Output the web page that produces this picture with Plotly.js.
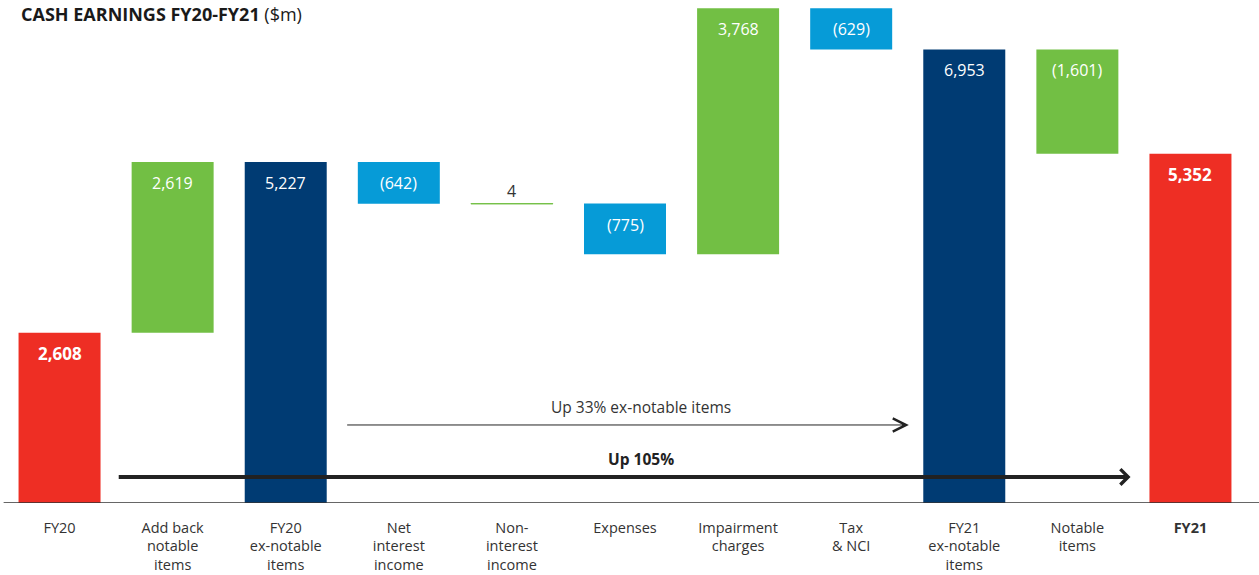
<!DOCTYPE html>
<html>
<head>
<meta charset="utf-8">
<script src="https://cdn.plot.ly/plotly-3.0.1.min.js"></script>
<style>html,body{margin:0;padding:0;background:#fff;}#chart{width:1259px;height:575px;}</style>
</head>
<body>
<div id="chart"></div>
<script>
// ---- data ----
const categories = ['FY20', 'Add back<br>notable<br>items', 'FY20<br>ex-notable<br>items', 'Net<br>interest<br>income', 'Non-<br>interest<br>income', 'Expenses', 'Impairment<br>charges', 'Tax<br>& NCI', 'FY21<br>ex-notable<br>items', 'Notable<br>items', '<b>FY21</b>'];
const values = [2608, 2619, 5227, -642, 4, -775, 3768, -629, 6953, -1601, 5352];
const measures = ['total', 'relative', 'total', 'relative', 'relative', 'relative', 'relative', 'relative', 'total', 'relative', 'total'];
const barColors = ['#EE2E24', '#72BF44', '#003B73', '#069BD7', '#72BF44', '#069BD7', '#72BF44', '#069BD7', '#003B73', '#72BF44', '#EE2E24'];
const boldLabel = [true, false, false, false, false, false, false, false, false, false, true];
const titleText = '<b>CASH EARNINGS FY20-FY21</b> ($m)';
const arrowTexts = ['Up 33% ex-notable items', '<b>Up 105%</b>'];

// ---- build waterfall geometry ----
const bases = [], heights = [], tops = [];
let running = 0;
values.forEach((v, i) => {
  if (measures[i] === 'total') {
    bases.push(0); heights.push(v); running = v; tops.push(v);
  } else {
    const start = running, end = running + v;
    bases.push(Math.min(start, end)); heights.push(Math.abs(v));
    tops.push(Math.max(start, end)); running = end;
  }
});
const fmt = v => {
  const s = Math.abs(v).toLocaleString('en-US');
  return v < 0 ? '(' + s + ')' : s;
};
const lineW = heights.map(h => h < 50 ? 1 : 0);

const trace = {
  type: 'bar',
  x: categories,
  y: heights,
  base: bases,
  marker: { color: barColors, line: { color: barColors, width: lineW } },
  hoverinfo: 'skip'
};

const font = "'Open Sans', sans-serif";
const annotations = [];
categories.forEach((c, i) => {
  const small = heights[i] < 50;
  let t = fmt(values[i]);
  if (boldLabel[i]) t = '<b>' + t + '</b>';
  annotations.push({
    x: c, y: tops[i], xref: 'x', yref: 'y',
    text: t, showarrow: false,
    yanchor: 'middle', yshift: small ? 13 : -21,
    font: { family: font, size: boldLabel[i] ? 17 : 16, color: small ? '#333333' : '#FFFFFF' }
  });
});
// title
annotations.push({
  xref: 'paper', yref: 'paper', x: 0, y: 1, xanchor: 'left', yanchor: 'top',
  xshift: 16, yshift: 0, text: titleText, showarrow: false,
  font: { family: font, size: 18, color: '#1a1a1a' }
});
// arrows
annotations.push({
  xref: 'x', yref: 'y', axref: 'x', ayref: 'y',
  x: 7.51, y: 1196, ax: 2.53, ay: 1196,
  showarrow: true, arrowhead: 5, arrowwidth: 1, arrowsize: 2.6, arrowcolor: '#222222', text: ''
});
annotations.push({
  xref: 'x', yref: 'y', x: 5.14, y: 1471, text: arrowTexts[0], showarrow: false,
  font: { family: font, size: 15.5, color: '#333333' }
});
annotations.push({
  xref: 'x', yref: 'y', axref: 'x', ayref: 'y',
  x: 9.47, y: 399, ax: 0.51, ay: 399,
  showarrow: true, arrowhead: 4, arrowwidth: 4, arrowsize: 0.75, arrowcolor: '#222222', text: ''
});
annotations.push({
  xref: 'x', yref: 'y', x: 5.14, y: 674, text: arrowTexts[1], showarrow: false,
  font: { family: font, size: 15.5, color: '#222222' }
});

const layout = {
  width: 1259, height: 575,
  margin: { l: 3, r: 12, t: 0, b: 72 },
  paper_bgcolor: '#ffffff', plot_bgcolor: '#ffffff',
  showlegend: false,
  bargap: 0.275,
  xaxis: {
    type: 'category', range: [-0.5, 10.5], showgrid: false, zeroline: false, showline: false,
    ticks: '', ticklabelstandoff: 14,
    tickfont: { family: font, size: 14.5, color: '#333333' }, fixedrange: true
  },
  yaxis: {
    range: [0, 7710], visible: false, showgrid: false, zeroline: false, fixedrange: true
  },
  shapes: [{
    type: 'line', xref: 'paper', yref: 'y', x0: 0.0005, x1: 1.02, y0: 0, y1: 0,
    line: { color: '#333333', width: 1.5 }
  }],
  annotations: annotations
};

Plotly.newPlot('chart', [trace], layout, { displayModeBar: false, staticPlot: true });
</script>
</body>
</html>
